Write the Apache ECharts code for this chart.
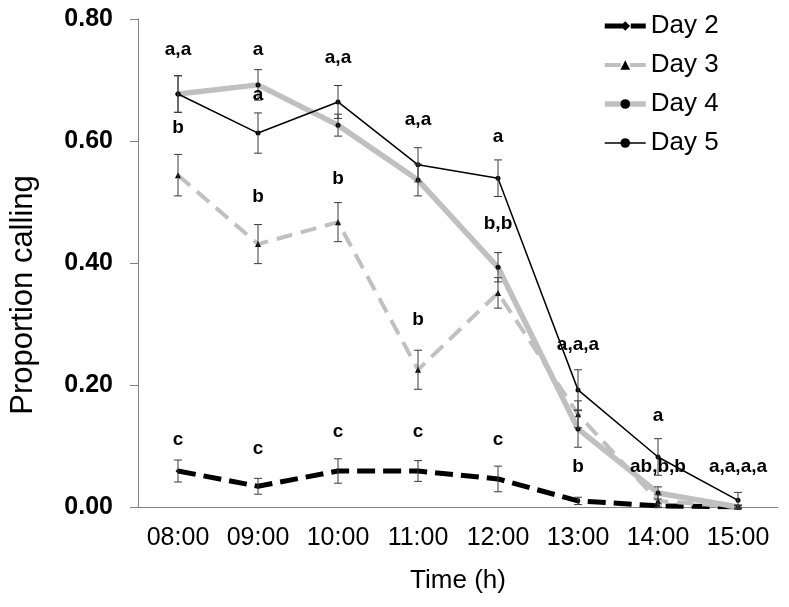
<!DOCTYPE html>
<html><head><meta charset="utf-8">
<script src="https://cdn.jsdelivr.net/npm/echarts@6/dist/echarts.min.js"></script>
<style>html,body{margin:0;padding:0;background:#fff}#c{width:789px;height:607px}</style>
</head><body><div id="c"></div>
<script>
const categories = ['08:00','09:00','10:00','11:00','12:00','13:00','14:00','15:00'];
const day2 = [0.059,0.034,0.059,0.059,0.046,0.010,0.002,0.000];
const day2Err = [0.018,0.013,0.020,0.017,0.021,0.006,0.003,0.002];
const day3 = [0.544,0.431,0.467,0.225,0.351,0.152,0.010,0.000];
const day3Err = [0.034,0.032,0.032,0.032,0.025,0.022,0.010,0.003];
const day4 = [0.677,0.692,0.626,0.536,0.393,0.128,0.023,0.000];
const day4Err = [0.030,0.025,0.018,0.026,0.024,0.030,0.010,0.003];
const day5 = [0.677,0.613,0.664,0.561,0.539,0.192,0.082,0.011];
const day5Err = [0.030,0.033,0.027,0.028,0.030,0.033,0.030,0.013];
const yTicks = [0, 0.2, 0.4, 0.6, 0.8];
const annotCat  = ['08:00','08:00','08:00','09:00','09:00','09:00','09:00','10:00','10:00','10:00','11:00','11:00','11:00','12:00','12:00','12:00','13:00','13:00','14:00','14:00','15:00'];
const annotY    = [0.749,0.621,0.110,0.749,0.675,0.508,0.095,0.736,0.538,0.123,0.634,0.307,0.123,0.607,0.464,0.110,0.266,0.066,0.149,0.066,0.066];
const annotText = ['a,a','b','c','a','a','b','c','a,a','b','c','a,a','b','c','a','b,b','c','a,a,a','b','a','ab,b,b','a,a,a,a'];

const FONT = 'Liberation Sans, Arial, sans-serif';
const GRAY = '#c0c0c0';

function errSeries(vals, errs){
  return {
    type:'custom', silent:true, z:6,
    data: vals.map((v,i)=>[i, v, errs[i]]),
    renderItem(params, api){
      const x = api.value(0), v = api.value(1), e = api.value(2);
      const hi = api.coord([x, v+e]), lo = api.coord([x, v-e]);
      const w = 4;
      const st = {stroke:'#3a3a3a', lineWidth:1, fill:null};
      return {type:'group', children:[
        {type:'line', shape:{x1:hi[0],y1:hi[1],x2:lo[0],y2:lo[1]}, style:st},
        {type:'line', shape:{x1:hi[0]-w,y1:hi[1],x2:hi[0]+w,y2:hi[1]}, style:st},
        {type:'line', shape:{x1:lo[0]-w,y1:lo[1],x2:lo[0]+w,y2:lo[1]}, style:st}
      ]};
    }
  };
}

const chart = echarts.init(document.getElementById('c'), null, {renderer:'canvas'});
chart.setOption({
  animation:false,
  backgroundColor:'#fff',
  textStyle:{fontFamily:FONT},
  grid:{left:135, right:11, top:19, bottom:100, containLabel:false},
  legend:{
    data:['Day 2','Day 3','Day 4','Day 5'],
    orient:'vertical', left:597, top:8,
    itemWidth:41, itemHeight:12, itemGap:13,
    lineStyle:{width:'inherit', type:'inherit'},
    textStyle:{fontSize:26, color:'#000', fontFamily:FONT},
    inactiveColor:'#ccc'
  },
  xAxis:{
    type:'category', data:categories, boundaryGap:true,
    axisLine:{lineStyle:{color:'#808080', width:1}},
    axisTick:{alignWithLabel:true, interval:0, length:6, lineStyle:{color:'#808080'}},
    axisLabel:{interval:0, fontSize:25, color:'#000', margin:19, fontFamily:FONT},
    name:'Time (h)', nameLocation:'middle', nameGap:61,
    nameTextStyle:{fontSize:26, color:'#000', fontFamily:FONT}
  },
  yAxis:{
    type:'value', min:yTicks[0], max:yTicks[yTicks.length-1], interval:yTicks[1]-yTicks[0],
    axisLine:{show:true, lineStyle:{color:'#808080', width:1}},
    axisTick:{show:true, length:8, lineStyle:{color:'#808080'}},
    splitLine:{show:false},
    axisLabel:{fontSize:25, fontWeight:'bold', color:'#000', margin:25, fontFamily:FONT, formatter:v=>v.toFixed(2)},
    name:'Proportion calling', nameLocation:'middle', nameGap:99,
    nameTextStyle:{fontSize:31, color:'#000', fontFamily:FONT, padding:[0,64,0,0]}
  },
  series:[
    {name:'Day 2', type:'line', data:day2, symbol:'diamond', symbolSize:5, z:3,
     itemStyle:{color:'#000'}, lineStyle:{color:'#000', width:5, type:[18,8]}},
    {name:'Day 3', type:'line', data:day3, symbol:'triangle', symbolSize:6, z:3,
     itemStyle:{color:'#000'}, lineStyle:{color:GRAY, width:4, type:[16,9]}},
    {name:'Day 4', type:'line', data:day4, symbol:'circle', symbolSize:5, z:4,
     itemStyle:{color:'#000'}, lineStyle:{color:GRAY, width:5.5}},
    {name:'Day 5', type:'line', data:day5, symbol:'circle', symbolSize:5, z:5,
     itemStyle:{color:'#000'}, lineStyle:{color:'#000', width:1.5}},
    errSeries(day2, day2Err),
    errSeries(day3, day3Err),
    errSeries(day4, day4Err),
    errSeries(day5, day5Err),
    {type:'custom', silent:true, z:7,
     data: annotCat.map((c,i)=>[categories.indexOf(c), annotY[i], annotText[i]]),
     renderItem(params, api){
       const p = api.coord([api.value(0), api.value(1)]);
       return {type:'text', x:p[0], y:p[1], style:{
         text: annotText[params.dataIndex], fill:'#000', align:'center', verticalAlign:'middle',
         font:'bold 19px ' + FONT}};
     }}
  ]
});
</script></body></html>
